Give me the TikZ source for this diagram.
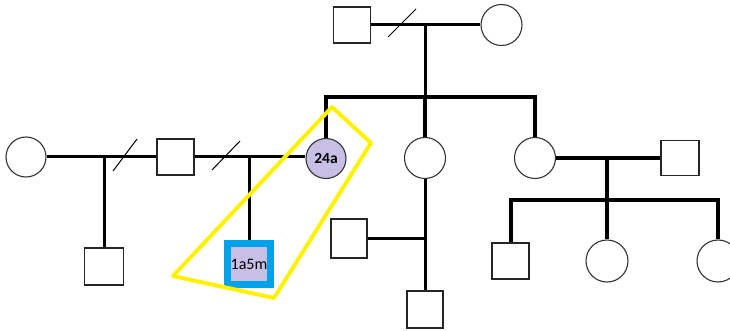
\documentclass[tikz,border=0pt]{standalone}
\usepackage{fontspec}
\setmainfont{Carlito}
\begin{document}
\begin{tikzpicture}[x=1pt,y=-1pt,
  male/.style={draw=black!85, line width=1.3pt, fill=white, rectangle, inner sep=0pt,
    minimum width=37pt, minimum height=36pt},
  female/.style={draw=black!80, line width=1.1pt, fill=white, circle, inner sep=0pt,
    minimum size=41pt},
  marked/.style={fill=lav},
  kin/.style={line width=3pt, line cap=butt},
  sib/.style={line width=4pt, line cap=butt, line join=miter},
  sever/.style={line width=1pt},
  ring/.style={draw=hl, line width=4pt, line join=round}
]
\definecolor{lav}{RGB}{200,191,231}
\definecolor{pblue}{RGB}{0,162,232}
\definecolor{hl}{RGB}{255,242,0}
\useasboundingbox (0,0) rectangle (730,331);
\clip (0,0) rectangle (730,331);

% top couple
\node[male] (gpM) at (352,25) {};
\node[female] (gpF) at (501.5,25) {};
\coordinate (tm) at (425,25);
\coordinate (ts) at (425,97);

% their children
\node[female, marked, minimum size=40pt] (c24) at (326,158.5) {\bfseries\fontsize{15.5}{15.5}\selectfont 24a};
\node[female] (mid) at (425,158) {};
\node[female] (rc) at (535,158) {};

% left partnerships
\node[female, minimum size=40pt] (lc) at (26,157) {};
\node[male] (lsq) at (175.5,157) {};
\node[male, minimum width=39pt, minimum height=37pt] (ls1) at (104,266.5) {};
\node[draw=pblue, line width=7pt, fill=lav, rectangle, inner sep=0pt,
  minimum width=43pt, minimum height=41pt] (prop) at (249,264)
  {\fontsize{16}{16}\selectfont 1a5m};
\coordinate (lj1) at (104,157);
\coordinate (lj2) at (249,157);

% middle branch
\node[male, minimum width=36pt, minimum height=39pt] (mq) at (349,238.5) {};
\node[male, minimum width=36pt, minimum height=37pt] (mb) at (425,309.5) {};
\coordinate (mj) at (425,238.5);

% right couple and children
\node[male, minimum width=38pt, minimum height=35pt] (rsq) at (680,158) {};
\coordinate (rj) at (607,158);
\coordinate (rs) at (607,200);
\node[male] (g1) at (510.5,261) {};
\node[female, minimum size=42pt] (g2) at (607,261) {};
\node[female, minimum size=42pt] (g3) at (718,261) {};

% connectors
\draw[kin] (gpM.east) -- (gpF.west);
\draw[kin] (tm) -- (ts);
\draw[sib] (c24.north) |- (ts) -| (rc.north);
\draw[sib] (ts) -- (mid.north);

\draw[kin] (lc.east) -- (lsq.west);
\draw[kin] (lsq.east) -- (c24.west |- lsq.east);
\draw[kin] (lj1) -- (ls1.north);
\draw[kin] (lj2) -- (prop.north);

\draw[kin] (mid.south) -- (mb.north);
\draw[kin] (mq.east) -- (mj);

\draw[sib] (rc.east) -- (rsq.west);
\draw[sib] (rj) -- (rs);
\draw[sib] (g1.north) |- (rs) -| (g3.north);
\draw[sib] (rs) -- (g2.north);

% separation marks
\coordinate (s1a) at (388,37); \coordinate (s1b) at (416,9);
\coordinate (s2a) at (113,171); \coordinate (s2b) at (137,139);
\coordinate (s3a) at (212,170); \coordinate (s3b) at (240,141);
\draw[sever] (s1a) -- (s1b);
\draw[sever] (s2a) -- (s2b);
\draw[sever] (s3a) -- (s3b);

% highlight outline
\draw[ring] (332,107) -- (371,143) -- (274,298) -- (173,276) -- cycle;
\end{tikzpicture}
\end{document}
